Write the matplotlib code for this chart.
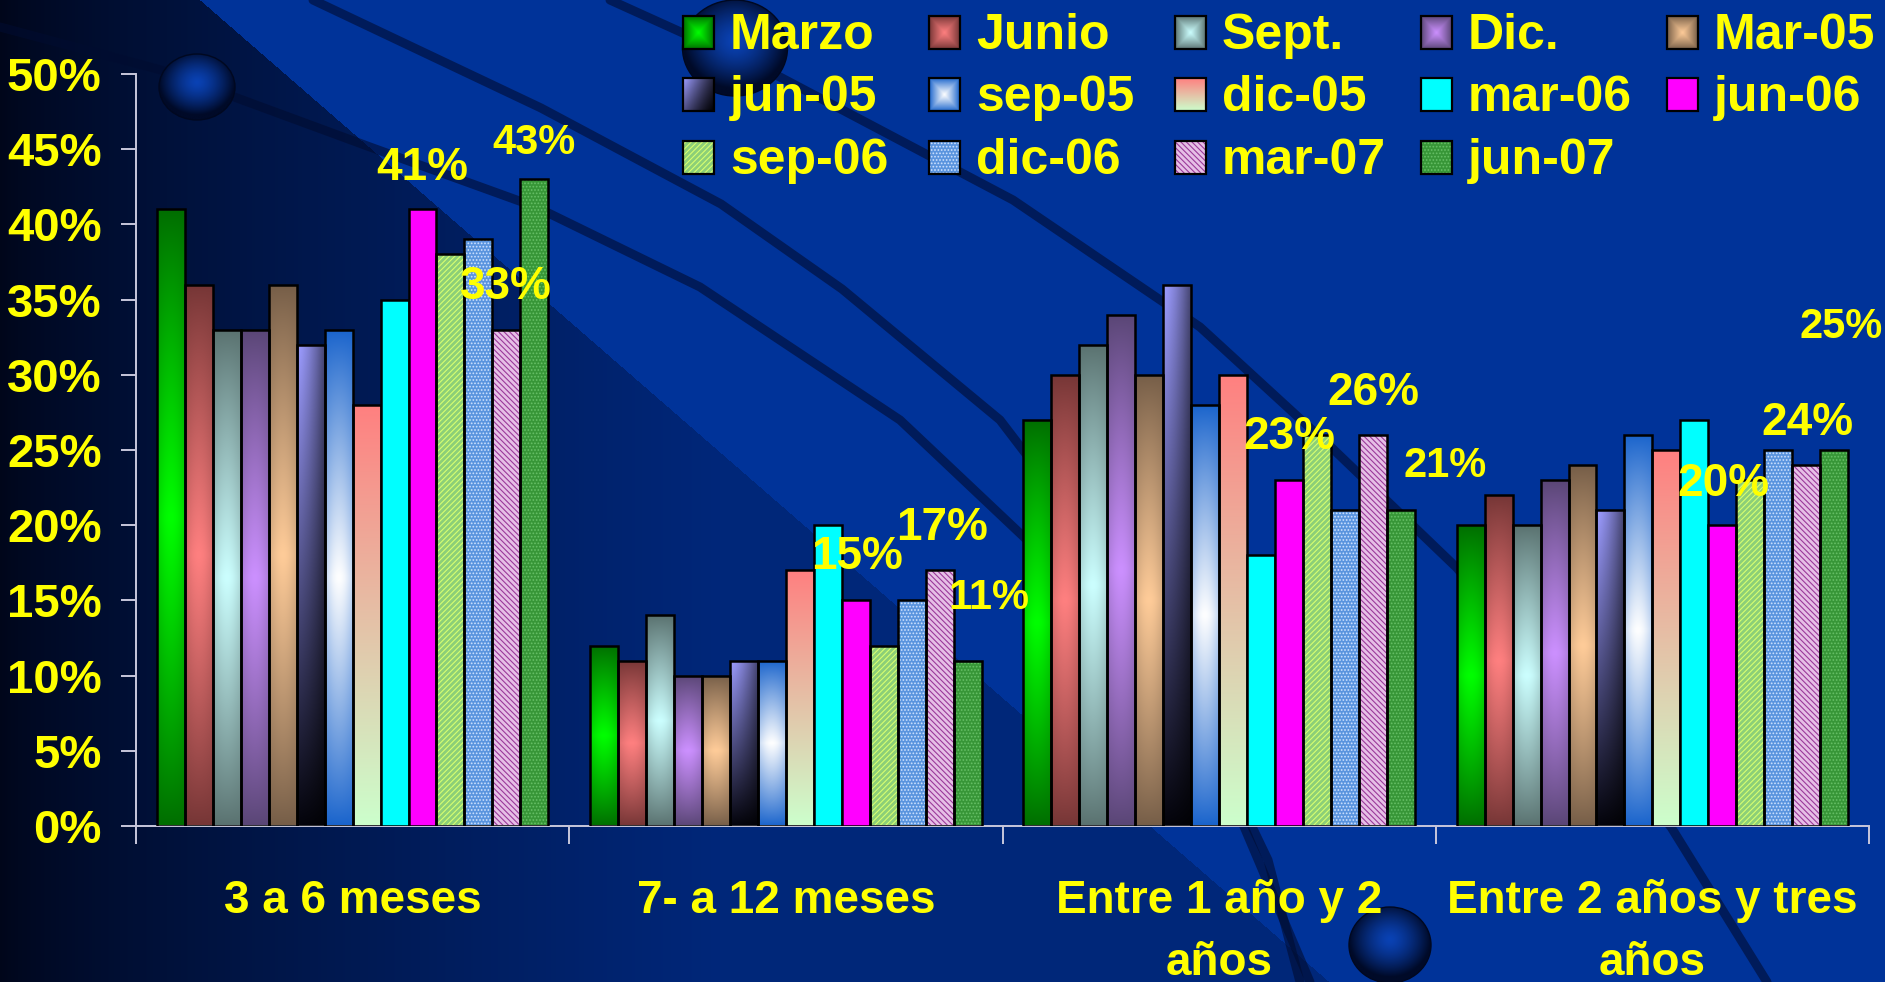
import numpy as np
import matplotlib
matplotlib.use("Agg")
import matplotlib.pyplot as plt
from matplotlib.patches import Rectangle, Ellipse
from matplotlib.colors import to_rgb

# ---- data (percent) ----
categories = ["3 a 6 meses", "7- a 12 meses", "Entre 1 año y 2\naños", "Entre 2 años y tres\naños"]
series = ["Marzo", "Junio", "Sept.", "Dic.", "Mar-05", "jun-05", "sep-05", "dic-05",
          "mar-06", "jun-06", "sep-06", "dic-06", "mar-07", "jun-07"]
marzo = [41, 12, 27, 20]
junio = [36, 11, 30, 22]
sept = [33, 14, 32, 20]
dic = [33, 10, 34, 23]
mar05 = [36, 10, 30, 24]
jun05 = [32, 11, 36, 21]
sep05 = [33, 11, 28, 26]
dic05 = [28, 17, 30, 25]
mar06 = [35, 20, 18, 27]
jun06 = [41, 15, 23, 20]
sep06 = [38, 12, 26, 23]
dic06 = [39, 15, 21, 25]
mar07 = [33, 17, 26, 24]
jun07 = [43, 11, 21, 25]
values = [marzo, junio, sept, dic, mar05, jun05, sep05, dic05,
          mar06, jun06, sep06, dic06, mar07, jun07]
yticks = [0, 5, 10, 15, 20, 25, 30, 35, 40, 45, 50]

# series that carry value labels, and how the labels were nudged (px: dx, gap above bar)
labelled = ["jun-06", "mar-07", "jun-07"]
label_nudge = {
    "jun-06": [(0, 29), (1, 31), (0, 31), (1, 29)],
    "mar-07": [(0, 31), (2, 30), (1, 30), (1, 30)],
    "jun-07": [(0, 25), (21, 52), (44, 33), (7, 112)],
}
label_size = {"jun-06": 33, "mar-07": 33, "jun-07": 30}

# fill style per series
fills = {
    "Marzo": ("center", "#006e00", "#00ff00"),
    "Junio": ("center", "#763636", "#ff8080"),
    "Sept.": ("center", "#5a7270", "#ccffff"),
    "Dic.": ("center", "#5a4676", "#cc90ff"),
    "Mar-05": ("center", "#765e48", "#ffcc99"),
    "jun-05": ("shade", "#9c9cff", "#04040c"),
    "sep-05": ("center", "#1a64cc", "#ffffff"),
    "dic-05": ("linear", "#ff8080", "#ccffcc"),
    "mar-06": ("flat", "#00ffff"),
    "jun-06": ("flat", "#ff00ff"),
    "sep-06": ("hatch", "#8ccf78", "#d8ff70", "//////"),
    "dic-06": ("hatch", "#5a94de", "#cfe2ff", "....."),
    "mar-07": ("hatch", "#e6bfe6", "#9a3a9a", "\\\\\\\\\\\\"),
    "jun-07": ("hatch", "#379637", "#66c066", "....."),
}

YELLOW = "#ffff00"
AXIS_C = "#c8c8dc"
plt.rcParams["font.family"] = ["Liberation Sans"]
plt.rcParams["hatch.linewidth"] = 0.8


def gradient(style, box=False, nx=32, ny=128):
    kind = style[0]
    gx = np.linspace(0, 1, nx)[None, :]
    gy = np.linspace(0, 1, ny)[:, None]
    c0, c1 = np.array(to_rgb(style[1])), np.array(to_rgb(style[2]))
    if kind == "center":
        if box:
            t = 1 - np.maximum(np.abs(2 * gx - 1), np.abs(2 * gy - 1))
        else:
            t = (1 - np.abs(2 * gy - 1)) * (0.72 + 0.28 * np.sin(np.pi * gx))
        t = np.clip(t, 0, 1) ** 0.9
        return c0 + (c1 - c0) * t[..., None]
    if kind == "linear":
        t = gy * np.ones_like(gx)
        return c0 + (c1 - c0) * t[..., None]
    # shade: light top -> dark bottom, darker towards the right
    t = gy * np.ones_like(gx)
    if box:
        t = np.clip((gy + gx) / 2, 0, 1)
    img = c0 + (c1 - c0) * t[..., None]
    return img * (1 - 0.55 * gx ** 1.4)[..., None]


fig = plt.figure(figsize=(18.85, 9.82), dpi=100)
W, H = 1885, 982

# ---- background (pixel coordinates) ----
bg = fig.add_axes([0, 0, 1, 1], zorder=-1)
yy, xx = np.mgrid[0:H, 0:W]
base = np.array(to_rgb("#003399"))
d0, d1 = np.array(to_rgb("#00061a")), np.array(to_rgb("#00277a"))
t = (np.clip(xx / 720, 0, 1) ** 0.75)[..., None]
dark = d0 + (d1 - d0) * t
mask = (xx < 200 + 1.15 * yy)[..., None]
bg.imshow(np.where(mask, dark, base), extent=(0, W, H, 0), aspect="auto", zorder=0)

curves = [
    ([0, 161, 370, 536, 700, 900, 1080, 1220, 1310], [27, 70, 147, 207, 287, 420, 590, 770, 982]),
    ([313, 541, 721, 842, 1000, 1130, 1220, 1268, 1300], [0, 108, 204, 289, 420, 590, 760, 860, 982]),
    ([610, 780, 1013, 1200, 1333, 1457, 1671, 1767], [0, 77, 200, 327, 449, 568, 827, 982]),
]
for cx, cy in curves:
    bg.plot(cx, cy, color="#000c30", lw=6.5, alpha=0.6, solid_joinstyle="round",
            solid_capstyle="round", zorder=1)

spheres = [(197, 87, 76, 66), (735, 48, 105, 96), (1390, 945, 82, 76)]
gy, gx = np.mgrid[-1:1:80j, -1:1:80j]
r = np.clip(np.hypot(gx, gy + 0.15), 0, 1)
c_in, c_out = np.array(to_rgb("#0a42b4")), np.array(to_rgb("#000a28"))
sphere_img = c_in + (c_out - c_in) * (r ** 1.4)[..., None]
for cx, cy, ew, eh in spheres:
    e = Ellipse((cx, cy), ew, eh, facecolor="none", edgecolor="#000820", lw=1, zorder=3)
    bg.add_patch(e)
    im = bg.imshow(sphere_img, extent=(cx - ew / 2, cx + ew / 2, cy + eh / 2, cy - eh / 2),
                   aspect="auto", interpolation="bilinear", zorder=2)
    im.set_clip_path(e)

# ---- legend (row-major, 5 columns) ----
for k, name in enumerate(series):
    row, col = divmod(k, 5)
    lx, ly = 683 + 246 * col, 32 + 62.5 * row
    style = fills[name]
    if style[0] == "flat":
        bg.add_patch(Rectangle((lx, ly - 16.5), 31, 33, facecolor=style[1],
                               edgecolor="black", lw=1.6, zorder=5))
    elif style[0] == "hatch":
        bg.add_patch(Rectangle((lx, ly - 16.5), 31, 33, facecolor=style[1],
                               edgecolor=style[2], hatch=style[3], lw=0, zorder=5))
        bg.add_patch(Rectangle((lx, ly - 16.5), 31, 33, fill=False,
                               edgecolor="black", lw=1.6, zorder=6))
    else:
        rect = Rectangle((lx, ly - 16.5), 31, 33, fill=False, edgecolor="black", lw=1.6, zorder=6)
        bg.add_patch(rect)
        im = bg.imshow(gradient(style, box=True), extent=(lx, lx + 31, ly + 16.5, ly - 16.5),
                       aspect="auto", interpolation="bilinear", zorder=5)
        im.set_clip_path(rect)
    bg.text(lx + 47, ly + 16.5, name, color=YELLOW, fontsize=36, fontweight="bold",
            va="baseline", ha="left", zorder=7)

bg.set_xlim(0, W)
bg.set_ylim(H, 0)
bg.axis("off")

# ---- bars ----
ax = fig.add_axes([136 / W, 1 - 826 / H, (1869 - 136) / W, (826 - 74) / H], zorder=1)
ax.patch.set_alpha(0)
n = len(series)
bw = 1 / (n + 1.5)
centers = np.arange(len(categories)) + 0.5

for i, (name, vals) in enumerate(zip(series, values)):
    pos = centers + (i - (n - 1) / 2) * bw
    style = fills[name]
    if style[0] == "flat":
        bars = ax.bar(pos, vals, bw, color=style[1], edgecolor="black", lw=1.8, zorder=3)
    elif style[0] == "hatch":
        ax.bar(pos, vals, bw, color=style[1], edgecolor=style[2], hatch=style[3], lw=0, zorder=2.5)
        bars = ax.bar(pos, vals, bw, fill=False, edgecolor="black", lw=1.8, zorder=3)
    else:
        bars = ax.bar(pos, vals, bw, color="none", edgecolor="black", lw=1.8, zorder=3)
        img = gradient(style)
        for b in bars:
            im = ax.imshow(img, extent=(b.get_x(), b.get_x() + b.get_width(), 0, b.get_height()),
                           aspect="auto", interpolation="bilinear", origin="upper", zorder=2.5)
            im.set_clip_path(b)
    if name in labelled:
        for j, b in enumerate(bars):
            dx, dy = label_nudge[name][j]
            ax.annotate(f"{vals[j]}%", xy=(b.get_x() + b.get_width() / 2, b.get_height()),
                        xytext=(dx, dy), textcoords="offset pixels", ha="center", va="baseline",
                        color=YELLOW, fontsize=label_size[name], fontweight="bold",
                        zorder=6, annotation_clip=False)

ax.set_xlim(0, len(categories))
ax.set_ylim(0, 50)
ax.set_yticks(yticks, [f"{v}%" for v in yticks])
ax.set_xticks(np.arange(len(categories) + 1), [""] * (len(categories) + 1))
ax.set_xticks(centers, categories, minor=True)
ax.tick_params(axis="y", direction="out", length=10.8, width=1.4, color=AXIS_C, pad=14,
               labelcolor=YELLOW, labelsize=34)
ax.tick_params(axis="x", which="major", direction="out", length=13, width=1.4, color=AXIS_C)
ax.tick_params(axis="x", which="minor", length=0, pad=38, labelcolor=YELLOW, labelsize=33)
for lab in ax.get_yticklabels() + ax.get_xticklabels(minor=True):
    lab.set_fontweight("bold")
for lab in ax.get_xticklabels(minor=True):
    lab.set_linespacing(1.55)
for s in ["top", "right"]:
    ax.spines[s].set_visible(False)
for s in ["left", "bottom"]:
    ax.spines[s].set_color(AXIS_C)
    ax.spines[s].set_linewidth(1.4)

fig.savefig("out.png", dpi=100)
